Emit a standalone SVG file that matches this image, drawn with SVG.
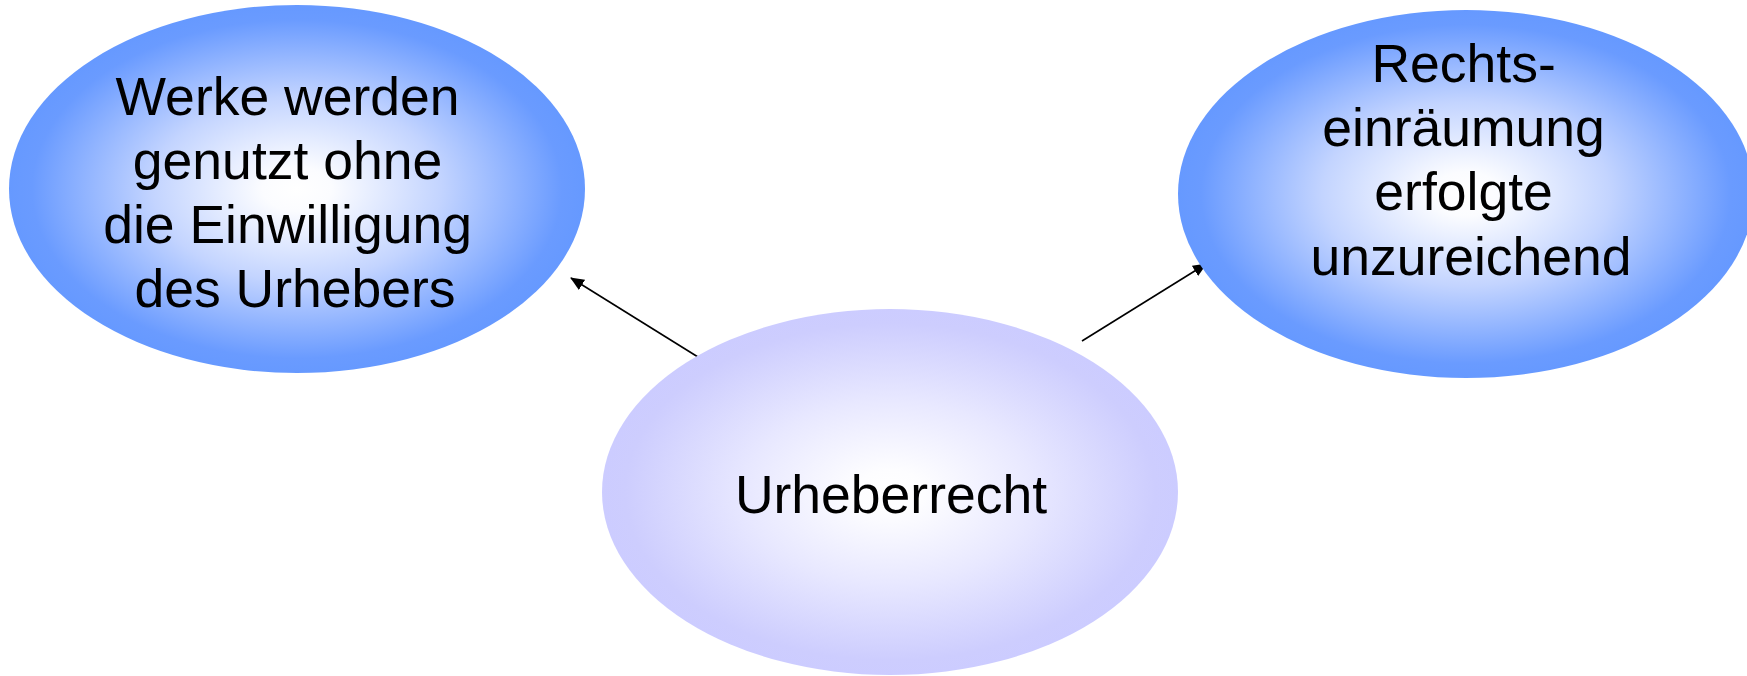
<svg xmlns="http://www.w3.org/2000/svg" width="1747" height="676" viewBox="0 0 1747 676">
  <defs>
    <radialGradient id="gBlue" cx="0.5" cy="0.5" r="0.5">
      <stop offset="0" stop-color="#ffffff"/>
      <stop offset="0.12" stop-color="#fbfcff"/>
      <stop offset="0.5" stop-color="#c3d4ff"/>
      <stop offset="0.92" stop-color="#6a9bff"/>
      <stop offset="1" stop-color="#6699ff"/>
    </radialGradient>
    <radialGradient id="gLilac" cx="0.5" cy="0.5" r="0.5">
      <stop offset="0" stop-color="#ffffff"/>
      <stop offset="0.12" stop-color="#fdfdff"/>
      <stop offset="0.5" stop-color="#e8e8ff"/>
      <stop offset="0.92" stop-color="#cdcdfe"/>
      <stop offset="1" stop-color="#ccccff"/>
    </radialGradient>
    <marker id="arrow" viewBox="0 0 14 12" refX="13" refY="6" markerWidth="14" markerHeight="12" markerUnits="userSpaceOnUse" orient="auto">
      <path d="M0,0 L14,6 L0,12 Z" fill="#000"/>
    </marker>
    <style>
      .label { font-family: "Liberation Sans", Arial, sans-serif; font-size: 53.5px; fill: #000; text-anchor: middle; }
      .conn { stroke: #000; stroke-width: 1.6; fill: none; }
    </style>
  </defs>
  <rect width="1747" height="676" fill="#ffffff"/>

  <!-- connectors drawn beneath the nodes -->
  <g id="connectors">
    <line class="conn" x1="698" y1="357" x2="571" y2="278" marker-end="url(#arrow)"/>
    <line class="conn" x1="1082" y1="341" x2="1206" y2="264" marker-end="url(#arrow)"/>
  </g>

  <g id="node-nutzung">
    <ellipse cx="297" cy="189" rx="288" ry="184" fill="url(#gBlue)"/>
    <text class="label">
      <tspan x="295" y="115">Werke werden</tspan>
      <tspan x="295" y="179">genutzt ohne</tspan>
      <tspan x="295" y="243">die Einwilligung</tspan>
      <tspan x="295" y="307">des Urhebers</tspan>
    </text>
  </g>

  <g id="node-rechtseinraeumung">
    <ellipse cx="1466" cy="194" rx="288" ry="184" fill="url(#gBlue)"/>
    <text class="label">
      <tspan x="1471" y="82">Rechts-</tspan>
      <tspan x="1471" y="146">einräumung</tspan>
      <tspan x="1471" y="210">erfolgte</tspan>
      <tspan x="1471" y="275">unzureichend</tspan>
    </text>
  </g>

  <g id="node-urheberrecht">
    <ellipse cx="890" cy="492" rx="288" ry="183" fill="url(#gLilac)"/>
    <text class="label" x="891" y="513">Urheberrecht</text>
  </g>
</svg>
